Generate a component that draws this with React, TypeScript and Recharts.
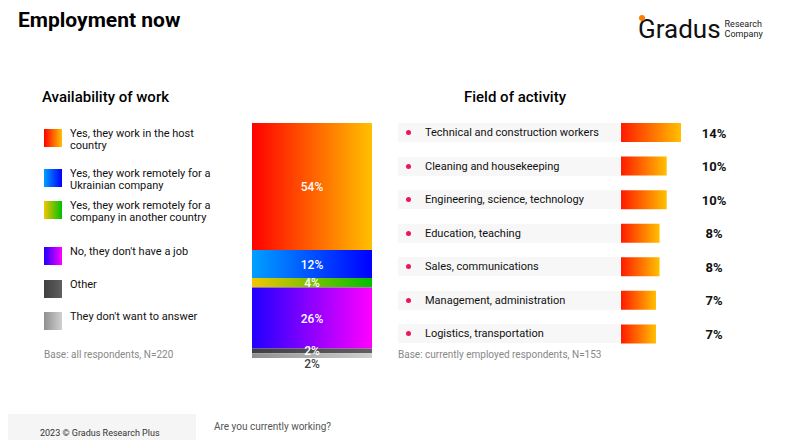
import React from "react";
import { BarChart, Bar, XAxis, YAxis, LabelList, Cell } from "recharts";

const availKeys = ["host", "ukr", "other_country", "nojob", "other", "noanswer"];
const availLabels = [
  "Yes, they work in the host country",
  "Yes, they work remotely for a Ukrainian company",
  "Yes, they work remotely for a company in another country",
  "No, they don't have a job",
  "Other",
  "They don't want to answer",
];
const availValues = [54, 12, 4, 26, 2, 2];
const availGrad: [string, string][] = [
  ["#ff0000", "#ffc000"],
  ["#00a0ff", "#0000ff"],
  ["#f5c400", "#00c000"],
  ["#2000ff", "#ff00ff"],
  ["#404040", "#606060"],
  ["#909090", "#d0d0d0"],
];
const fieldLabels = [
  "Technical and construction workers",
  "Cleaning and housekeeping",
  "Engineering, science, technology",
  "Education, teaching",
  "Sales, communications",
  "Management, administration",
  "Logistics, transportation",
];
const fieldValues = [14, 10, 10, 8, 8, 7, 7];

const stackRow: any = { name: "all" };
availKeys.forEach((k, i) => (stackRow[k] = availValues[i]));
const fieldData = fieldLabels.map((n, i) => ({ name: n, v: fieldValues[i] }));
const FIELD_MIN = -2.8;

const font = "Roboto, 'Noto Sans', sans-serif";
const legendTops = [128, 168, 200, 246, 279, 311];

export default function App() {
  return (
    <div style={{ position: "relative", width: 800, height: 448, margin: -8, fontFamily: font, background: "#fff", overflow: "hidden" }}>
      <div style={{ position: "absolute", left: 18, top: 8, fontSize: 21, fontWeight: 700, color: "#000" }}>Employment now</div>
      <div style={{ position: "absolute", left: 638, top: 14, display: "flex", alignItems: "center" }}>
        <span style={{ fontSize: 26, color: "#111", position: "relative" }}>
          <span style={{ position: "absolute", left: 1, top: 1, width: 6, height: 6, borderRadius: 3, background: "#ff7a00" }} />
          Gradus
        </span>
        <span style={{ fontSize: 9, lineHeight: "10px", marginLeft: 4, color: "#222" }}>Research<br />Company</span>
      </div>
      <div style={{ position: "absolute", left: 42, top: 88, fontSize: 15, fontWeight: 500 }}>Availability of work</div>
      <div style={{ position: "absolute", left: 464, top: 88, fontSize: 15, fontWeight: 500 }}>Field of activity</div>
      {availLabels.map((l, i) => (
        <div key={l} style={{ position: "absolute", left: 44, top: legendTops[i], display: "flex", alignItems: "flex-start" }}>
          <div style={{ width: 18, height: 18, background: `linear-gradient(90deg, ${availGrad[i][0]}, ${availGrad[i][1]})`, marginTop: 1 }} />
          <div style={{ marginLeft: 8, width: 146, fontSize: 11, lineHeight: "12px", color: "#111" }}>{l}</div>
        </div>
      ))}
      <div style={{ position: "absolute", left: 44, top: 349, fontSize: 10, color: "#888" }}>Base: all respondents, N=220</div>
      <div style={{ position: "absolute", left: 398, top: 349, fontSize: 10, color: "#888" }}>Base: currently employed respondents, N=153</div>
      <div style={{ position: "absolute", left: 0, top: 414, width: 196, height: 34, background: "#f5f5f5" }} />
      <div style={{ position: "absolute", left: 40, top: 428, fontSize: 9, color: "#333" }}>2023 © Gradus Research Plus</div>
      <div style={{ position: "absolute", left: 214, top: 421, fontSize: 10, color: "#555" }}>Are you currently working?</div>
      {fieldLabels.map((l, i) => (
        <div key={l} style={{ position: "absolute", left: 398, top: 123 + i * 33.5, width: 222, height: 19, background: "#f7f7f7", display: "flex", alignItems: "center" }}>
          <div style={{ width: 5, height: 5, borderRadius: 3, background: "#f0145a", marginLeft: 8 }} />
          <div style={{ marginLeft: 14, fontSize: 11, color: "#111" }}>{l}</div>
        </div>
      ))}

      <div style={{ position: "absolute", left: 252, top: 123 }}>
        <BarChart width={120} height={255} data={[stackRow]} margin={{ top: 0, right: 0, bottom: 20, left: 0 }} barCategoryGap={0}>
          <defs>
            {availGrad.map((g, i) => (
              <linearGradient key={i} id={`ag${i}`} x1="0" y1="0" x2="1" y2="0">
                <stop offset="0" stopColor={g[0]} />
                <stop offset="1" stopColor={g[1]} />
              </linearGradient>
            ))}
          </defs>
          <XAxis dataKey="name" hide />
          <YAxis hide domain={[0, 100]} reversed />
          {availKeys.map((k, i) => (
            <Bar key={k} dataKey={k} stackId="a" fill={`url(#ag${i})`} isAnimationActive={false}>
              <LabelList
                dataKey={k}
                content={(p: any) => {
                  const last = i === availKeys.length - 1;
                  const cy = last ? p.y + p.height + 15 : p.y + p.height / 2 + 4.5;
                  return (
                    <text x={p.x + p.width / 2} y={cy} textAnchor="middle" fill={last ? "#444" : "#fff"} fontSize={12} fontWeight={500} fontFamily={font}>
                      {p.value}%
                    </text>
                  );
                }}
              />
            </Bar>
          ))}
        </BarChart>
      </div>
      <div style={{ position: "absolute", left: 621, top: 116 }}>
        <BarChart width={120} height={235} data={fieldData} layout="vertical" margin={{ top: 0, right: 0, bottom: 0, left: 0 }} barSize={19}>
          <defs>
            <linearGradient id="fg" x1="0" y1="0" x2="1" y2="0">
              <stop offset="0" stopColor="#ff1a00" />
              <stop offset="1" stopColor="#ffc000" />
            </linearGradient>
          </defs>
          <XAxis type="number" hide domain={[FIELD_MIN, 30.8]} allowDataOverflow />
          <YAxis type="category" dataKey="name" hide />
          <Bar dataKey={(d: any) => [FIELD_MIN, d.v]} fill="url(#fg)" isAnimationActive={false}>
            {fieldData.map((d) => <Cell key={d.name} fill="url(#fg)" />)}
            <LabelList
              dataKey="v"
              content={(p: any) => (
                <text x={93} y={p.y + p.height / 2 + 5} textAnchor="middle" fill="#111" fontSize={13} fontWeight={700} fontFamily={font}>
                  {p.value}%
                </text>
              )}
            />
          </Bar>
        </BarChart>
      </div>
    </div>
  );
}
